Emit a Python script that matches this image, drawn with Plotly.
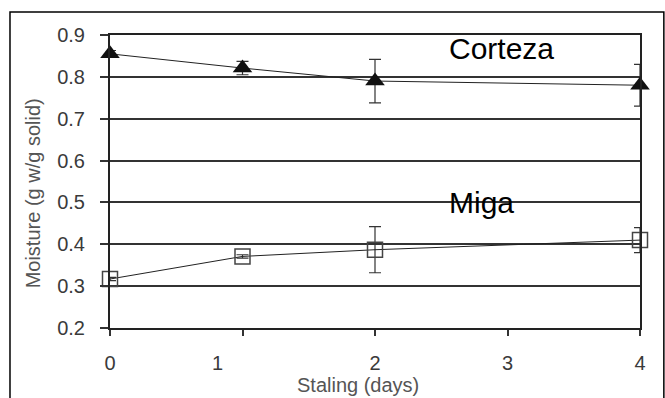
import plotly.graph_objects as go

days = [0, 1, 2, 4]
corteza = [0.855, 0.821, 0.790, 0.780]
corteza_err = [0.008, 0.016, 0.052, 0.050]
miga = [0.317, 0.371, 0.387, 0.410]
miga_err = [0.004, 0.004, 0.055, 0.030]
x_ticks = [0, 1, 2, 3, 4]
x_ticktext = ["0", "1" + "\u00a0" * 9, "2", "3", "4"]
y_ticks = [0.2, 0.3, 0.4, 0.5, 0.6, 0.7, 0.8, 0.9]

FONT = "Liberation Sans, Arial, sans-serif"

fig = go.Figure()
fig.add_trace(go.Scatter(
    x=days, y=corteza, mode="lines+markers", cliponaxis=False,
    line=dict(color="#222", width=1),
    marker=dict(symbol="triangle-up", size=17, color="#111"),
    error_y=dict(type="data", array=corteza_err, color="#333", thickness=1.2, width=6),
    showlegend=False))
fig.add_trace(go.Scatter(
    x=days, y=miga, mode="lines+markers", cliponaxis=False,
    line=dict(color="#222", width=1),
    marker=dict(symbol="square-open", size=15, color="#444", line=dict(width=1.5)),
    error_y=dict(type="data", array=miga_err, color="#333", thickness=1.2, width=6),
    showlegend=False))

fig.update_layout(
    width=665, height=398,
    margin=dict(l=110, r=25, t=35, b=70),
    paper_bgcolor="white", plot_bgcolor="white",
    font=dict(family=FONT, color="#444"),
    xaxis=dict(range=[0, 4], tickvals=x_ticks, ticktext=x_ticktext,
               showgrid=False, zeroline=False,
               showline=True, linecolor="#222", linewidth=2, mirror=True,
               ticks="outside", ticklen=6, tickwidth=1.5, tickcolor="#333",
               tickfont=dict(size=20, color="#3a3a3a"), ticklabelstandoff=10),
    yaxis=dict(range=[0.2, 0.9], tickvals=y_ticks, tickformat=".1f",
               showgrid=True, gridcolor="#333", gridwidth=2, zeroline=False,
               showline=True, linecolor="#222", linewidth=2, mirror=True,
               ticks="outside", ticklen=8, tickwidth=2, tickcolor="#333",
               tickfont=dict(size=20, color="#3a3a3a"), ticklabelstandoff=11),
    annotations=[
        dict(text="Corteza", xref="paper", yref="paper", x=0.738, y=0.955,
             xanchor="center", yanchor="middle", showarrow=False,
             font=dict(family=FONT, size=30, color="black")),
        dict(text="Miga", xref="paper", yref="paper", x=0.70, y=0.427,
             xanchor="center", yanchor="middle", showarrow=False,
             font=dict(family=FONT, size=30, color="black")),
        dict(text="Staling (days)", xref="paper", yref="paper", x=0.468, y=-0.195,
             xanchor="center", yanchor="middle", showarrow=False,
             font=dict(family=FONT, size=20, color="#555")),
        dict(text="Moisture (g w/g solid)", xref="paper", yref="paper", x=-0.145, y=0.46,
             xanchor="center", yanchor="middle", showarrow=False, textangle=-90,
             font=dict(family=FONT, size=20, color="#555")),
    ],
    shapes=[dict(type="rect", xref="paper", yref="paper",
                 x0=-0.1887, x1=1.045, y0=-0.26, y1=1.0785,
                 line=dict(color="black", width=1.5), layer="below")],
)

fig.write_html("out.html")
